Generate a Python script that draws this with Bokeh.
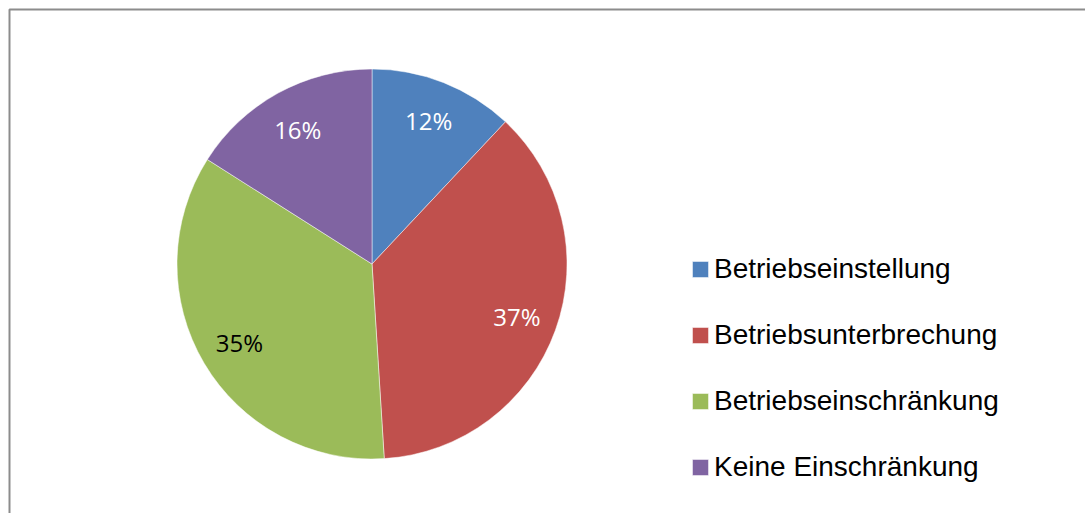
import numpy as np
from bokeh.plotting import figure
from bokeh.models import ColumnDataSource, Range1d, BoxAnnotation
from bokeh.core.properties import value
from bokeh.embed import file_html
from bokeh.resources import INLINE

# ---- data ----
categories = ["Betriebseinstellung", "Betriebsunterbrechung", "Betriebseinschränkung", "Keine Einschränkung"]
percents = [12, 37, 35, 16]
colors = ["#4F81BD", "#C0504D", "#9BBB59", "#8064A2"]
label_colors = ["white", "white", "black", "white"]

# ---- geometry / layout ----
W, H = 1085, 513
CX, CY = 371.5, 263.5   # pie centre in canvas px (from top-left)
R = 195
LABEL_FRAC = 0.79

vals = np.array(percents, dtype=float)
frac = vals / vals.sum()
cum = np.concatenate([[0.0], np.cumsum(frac)])
start = np.pi / 2 - cum[:-1] * 2 * np.pi
end = np.pi / 2 - cum[1:] * 2 * np.pi
mid = (start + end) / 2

src = ColumnDataSource(dict(
    label=categories,
    start=start,
    end=end,
    color=colors,
))
lab_src = ColumnDataSource(dict(
    x=LABEL_FRAC * R * np.cos(mid),
    y=LABEL_FRAC * R * np.sin(mid),
    text=[f"{v}%" for v in percents],
    tcolor=label_colors,
))

x0, x1 = -CX, W - CX
y0, y1 = -(H - CY), CY
p = figure(width=W, height=H, x_range=Range1d(x0, x1), y_range=Range1d(y0, y1),
           output_backend="svg", toolbar_location=None, tools="",
           min_border=0, outline_line_color=None)
p.axis.visible = False
p.grid.visible = False
p.background_fill_color = "white"
p.border_fill_color = "white"

p.wedge(x=0, y=0, radius=R, start_angle="start", end_angle="end", direction="clock",
        fill_color="color", line_color="white", line_width=0.8, line_alpha=0.6,
        source=src, legend_field="label")

p.text(x="x", y="y", text="text", text_color="tcolor", source=lab_src,
       text_align="center", text_baseline="middle",
       text_font=value("Open Sans"), text_font_size="24px")

# chart border (top/left visible, right/bottom outside the window)
p.add_layout(BoxAnnotation(left=x0 + 9, right=x1 + 50, top=y1 - 9, bottom=y0 - 50,
                           fill_color=None, line_color="#8c8c8c", line_alpha=1.0,
                           line_width=2))

lg = p.legend[0]
lg.location = (682 + 8, 30)
lg.border_line_color = None
lg.background_fill_alpha = 0
lg.padding = 0
lg.margin = 0
lg.glyph_width = 20
lg.glyph_height = 20
lg.label_standoff = 4
lg.spacing = 34
lg.label_text_font = "Liberation Sans"
lg.label_text_font_size = "28px"
lg.label_text_color = "black"

open("out.html", "w").write(file_html(p, INLINE))
